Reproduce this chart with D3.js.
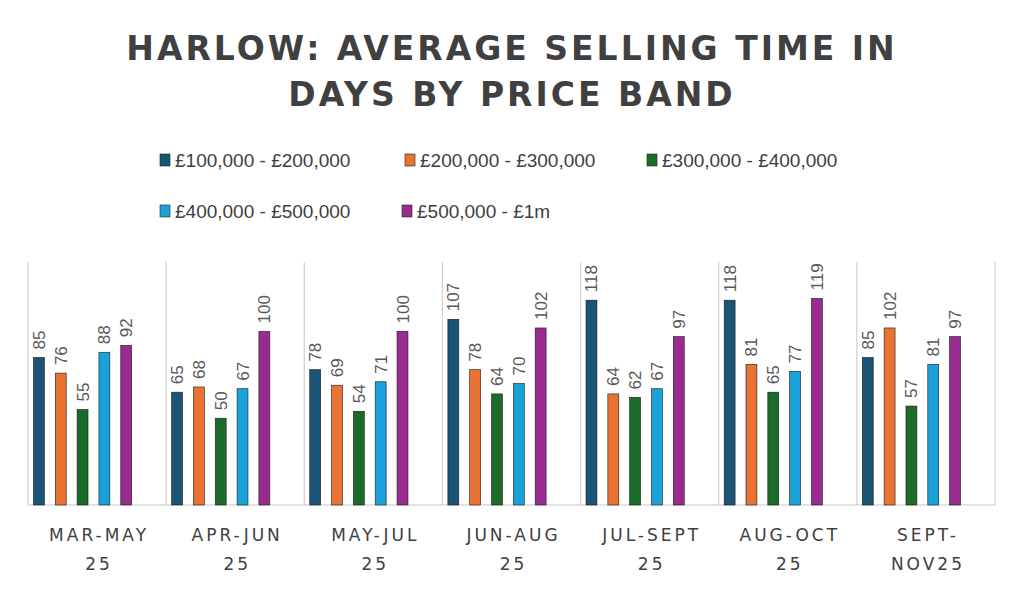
<!DOCTYPE html><html><head><meta charset="utf-8"><script src="https://cdn.jsdelivr.net/npm/d3@7/dist/d3.min.js"></script>
<style>body{margin:0;background:#fff}</style></head><body><svg id="c" width="1024" height="591"></svg>
<script>
const categories=[["MAR-MAY","25"],["APR-JUN","25"],["MAY-JUL","25"],["JUN-AUG","25"],["JUL-SEPT","25"],["AUG-OCT","25"],["SEPT-","NOV25"]];
const seriesNames=["£100,000 - £200,000","£200,000 - £300,000","£300,000 - £400,000","£400,000 - £500,000","£500,000 - £1m"];
const colors=["#1b5575","#ea7233","#1d6b29","#1ba1da","#9a2b90"];
const s1=[85,65,78,107,118,118,85];
const s2=[76,68,69,78,64,81,102];
const s3=[55,50,54,64,62,65,57];
const s4=[88,67,71,70,67,77,81];
const s5=[92,100,100,102,97,119,97];
const series=[s1,s2,s3,s4,s5];
const svg=d3.select("#c");
const L=28,R=995,T=262,B=505;
const x=d3.scaleBand().domain(d3.range(categories.length)).range([L,R]);
const xi=d3.scaleBand().domain(d3.range(5)).range([0,x.bandwidth()*0.79]).paddingInner(0.5).paddingOuter(0.25);
const y=d3.scaleLinear().domain([0,140]).range([B,T]);
// title
const tt=svg.append("text").attr("text-anchor","middle").attr("font-family","DejaVu Sans").attr("font-weight","bold").attr("font-size",33).attr("letter-spacing",3).attr("fill","#404040");
tt.append("tspan").attr("x",512).attr("y",60).text("HARLOW: AVERAGE SELLING TIME IN");
tt.append("tspan").attr("x",512).attr("y",106).text("DAYS BY PRICE BAND");
// legend
const legPos=[[160,160],[405,160],[647,160],[160,211],[402,211]];
seriesNames.forEach((n,i)=>{
  const g=svg.append("g").attr("transform",`translate(${legPos[i][0]},${legPos[i][1]})`);
  g.append("rect").attr("x",0).attr("y",-6).attr("width",10).attr("height",12).attr("fill",colors[i]).attr("stroke","#222").attr("stroke-width",0.6);
  g.append("text").attr("x",15).attr("y",7).attr("font-family","Liberation Sans").attr("font-size",19).attr("fill","#404040").text(n);
});
// separators
svg.selectAll("line.sep").data(d3.range(categories.length+1)).join("line")
 .attr("x1",i=>i<categories.length?x(i):R).attr("x2",i=>i<categories.length?x(i):R)
 .attr("y1",T).attr("y2",B).attr("stroke","#d0d0d0").attr("stroke-width",1.2);
svg.append("line").attr("x1",L).attr("x2",R).attr("y1",B).attr("y2",B).attr("stroke","#c8c8c8").attr("stroke-width",1.2);
// bars
series.forEach((s,si)=>{
  s.forEach((v,ci)=>{
    const bx=x(ci)+xi(si);
    svg.append("rect").attr("x",bx).attr("y",y(v)).attr("width",xi.bandwidth()).attr("height",B-y(v))
      .attr("fill",colors[si]).attr("stroke","#1a1a1a").attr("stroke-width",0.6);
    const cx=bx+xi.bandwidth()/2, ty=y(v)-8;
    svg.append("text").attr("transform",`translate(${cx+6},${ty}) rotate(-90)`).attr("font-family","Liberation Sans").attr("font-size",17).attr("fill","#595959").text(v);
  });
});
// categories
categories.forEach((c,i)=>{
  const t=svg.append("text").attr("text-anchor","middle").attr("font-family","DejaVu Sans").attr("font-size",17).attr("letter-spacing",3).attr("fill","#404040");
  t.append("tspan").attr("x",x(i)+x.bandwidth()/2+2).attr("y",541).text(c[0]);
  t.append("tspan").attr("x",x(i)+x.bandwidth()/2+2).attr("y",570).text(c[1]);
});
</script></body></html>
